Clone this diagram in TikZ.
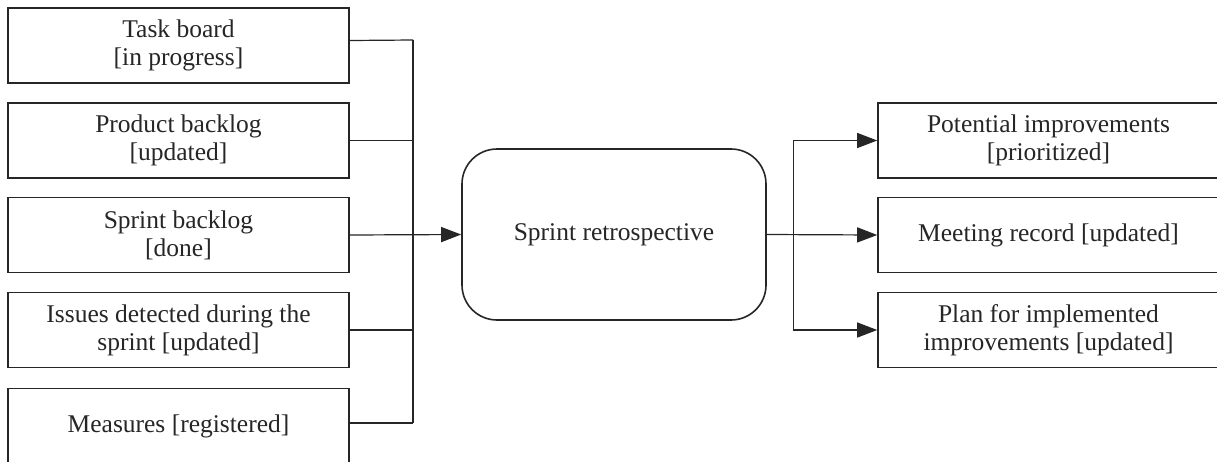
\documentclass[tikz,border=0pt]{standalone}
\usepackage{fontspec}
\setmainfont{Liberation Serif}
\usetikzlibrary{arrows.meta,calc}
\tikzset{
  inbox/.style={draw=black!85, line width=1.6pt, minimum width=341pt, minimum height=75pt,
    align=center, inner sep=2pt, font=\fontsize{25.5}{28}\selectfont, text=black!85},
  outbox/.style={inbox},
  process/.style={draw=black!85, line width=1.6pt, rounded corners=35pt, minimum width=304pt,
    minimum height=171pt, align=center, font=\fontsize{25.5}{28}\selectfont, text=black!85},
  link/.style={draw=black!85, line width=1.2pt},
  arr/.style={link, -{Triangle[length=20pt,width=15pt]}}
}
\begin{document}
\begin{tikzpicture}[x=1pt,y=-1pt]
\useasboundingbox (0,0) rectangle (1217,461);
\clip (0,0) rectangle (1217,461);
\fill[white] (0,0) rectangle (1217,461);

% inputs
\node[inbox] (b1) at (178.5,45.5) {Task board\\{}[in progress]};
\node[inbox] (b2) at (178.5,140.5) {Product backlog\\{}[updated]};
\node[inbox] (b3) at (178.5,235) {Sprint backlog\\{}[done]};
\node[inbox] (b4) at (178.5,330) {Issues detected during the\\sprint [updated]};
\node[inbox] (b5) at (178.5,426) {Measures [registered]};

% central activity
\node[process] (retro) at (614,234.5) {Sprint retrospective};

% outputs
\node[outbox] (o1) at (1048.5,140.5) {Potential improvements\\{}[prioritized]};
\node[outbox] (o2) at (1048.5,235) {Meeting record [updated]};
\node[outbox] (o3) at (1048.5,330) {Plan for implemented\\improvements [updated]};

% input bus
\coordinate (bt) at (413,40);
\coordinate (bb) at (413,423);
\draw[link] ([yshift=5pt]b1.east) -- (bt);
\draw[link] (b2.east) -- (b2.east -| bt);
\draw[link] (b4.east) -- (b4.east -| bt);
\draw[link] ([yshift=3pt]b5.east) -- (bb);
\draw[link] (bt) -- (bb);
\draw[arr] (b3.east) -- (retro.west);

% output bus
\coordinate (split) at ($(retro.east)+(27,0)$);
\draw[arr] (retro.east) -- (o2.west);
\draw[arr] (split) |- (o1.west);
\draw[arr] (split) |- (o3.west);
\end{tikzpicture}
\end{document}
